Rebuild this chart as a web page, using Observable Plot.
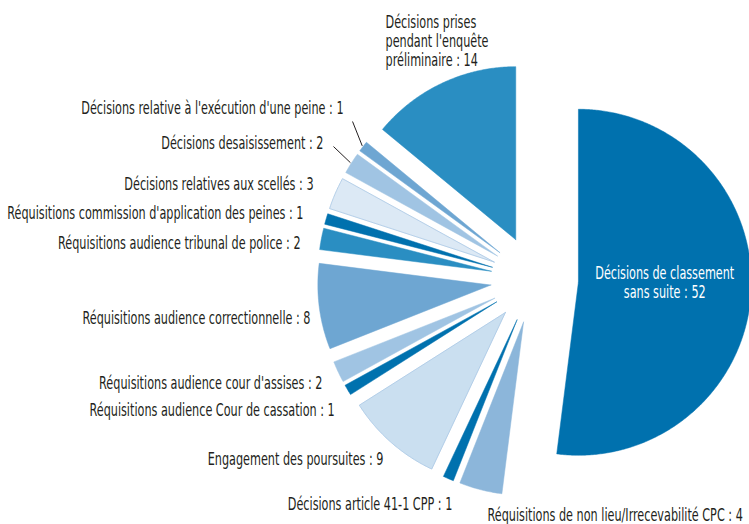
<!DOCTYPE html>
<html>
<head>
<meta charset="utf-8">
<script src="https://cdn.jsdelivr.net/npm/d3@7"></script>
<script src="https://cdn.jsdelivr.net/npm/@observablehq/plot@0.6"></script>
<style>
html, body { margin: 0; padding: 0; background: #fff; overflow: hidden; }
</style>
</head>
<body>
<div id="chart"></div>
<script>
// ---------- data ----------
const categories = [
  "Décisions de classement sans suite",
  "Réquisitions de non lieu/Irrecevabilité CPC",
  "Décisions article 41-1 CPP",
  "Engagement des poursuites",
  "Réquisitions audience Cour de cassation",
  "Réquisitions audience cour d'assises",
  "Réquisitions audience correctionnelle",
  "Réquisitions audience tribunal de police",
  "Réquisitions commission d'application des peines",
  "Décisions relatives aux scellés",
  "Décisions desaisissement",
  "Décisions relative à l'exécution d'une peine",
  "Décisions prises pendant l'enquête préliminaire"
];
const values = [52, 4, 1, 9, 1, 2, 8, 2, 1, 3, 2, 1, 14];
const labelTexts = [
  "Décisions de classement\nsans suite : 52",
  "Réquisitions de non lieu/Irrecevabilité CPC : 4",
  "Décisions article 41-1 CPP : 1",
  "Engagement des poursuites : 9",
  "Réquisitions audience Cour de cassation : 1",
  "Réquisitions audience cour d'assises : 2",
  "Réquisitions audience correctionnelle : 8",
  "Réquisitions audience tribunal de police : 2",
  "Réquisitions commission d'application des peines : 1",
  "Décisions relatives aux scellés : 3",
  "Décisions desaisissement : 2",
  "Décisions relative à l'exécution d'une peine : 1",
  "Décisions prises\npendant l'enquête\npréliminaire : 14"
];

// ---------- styles ----------
const palette = [
  "#0071ae", "#8cb6da", "#0071ae", "#cadff0", "#0071ae", "#a0c4e3", "#6ea6d2",
  "#2a8ec2", "#0071ae", "#dce9f5", "#a0c4e3", "#6ea6d2", "#2a8ec2"
];
const outlined = new Set([3, 9]); // very light slices carry a thin border
const textColor = "#231f20";
const fontFamily = "'Liberation Sans Narrow', 'DejaVu Sans Condensed', 'Arial Narrow', sans-serif";
const fontSize = 17;
const textScaleX = 0.735;

// ---------- layout ----------
const W = 749, H = 524;
const CX = 534, CY = 279;   // pie centre (px)
const EXPLODE = 44;         // explode distance (px)
const R = 173;              // radius (px)
// label nudges in px (dx right, dy down) from the slice's outer mid point
const labelNudge = [
  [0, -5], [7, 25], [4, 25], [-7.5, 17], [-13, 20.5], [-15.7, 11.6], [-8.7, 11.8],
  [-20.8, 3.7], [-22.6, -5.5], [-21.8, -9.8], [-27.8, -20.7], [-19.5, -38], [-56.6, -42.2]
];
const labelAnchor = ["middle", "start", "end", "end", "end", "end", "end",
  "end", "end", "end", "end", "end", "start"];
const insideLabel = new Set([0]);
const leaders = [ {i: 11, to: [9, 13]}, {i: 10, to: [10, 4]} ];

// ---------- geometry ----------
const arcs = d3.pie().sort(null).value(d => d)(values);
const points = [];
arcs.forEach((a, i) => {
  const mid = (a.startAngle + a.endAngle) / 2;
  const ax = EXPLODE * Math.sin(mid), ay = EXPLODE * Math.cos(mid);
  const n = Math.max(2, Math.ceil((a.endAngle - a.startAngle) / (Math.PI / 360)));
  points.push({name: categories[i], i, x: ax, y: ay});
  for (let k = 0; k <= n; k++) {
    const t = a.startAngle + (a.endAngle - a.startAngle) * k / n;
    points.push({name: categories[i], i, x: ax + R * Math.sin(t), y: ay + R * Math.cos(t)});
  }
  points.push({name: categories[i], i, x: ax, y: ay});
});

const labels = arcs.map((a, i) => {
  const mid = (a.startAngle + a.endAngle) / 2;
  const r = insideLabel.has(i) ? EXPLODE + 0.5 * R : EXPLODE + R;
  return {
    text: labelTexts[i],
    anchor: labelAnchor[i],
    inside: insideLabel.has(i),
    x: r * Math.sin(mid) + labelNudge[i][0],
    y: r * Math.cos(mid) - labelNudge[i][1]
  };
});

const leaderLinks = leaders.map(({i, to}) => {
  const a = arcs[i];
  const mid = (a.startAngle + a.endAngle) / 2;
  const r = EXPLODE + R + 1;
  return {
    x1: r * Math.sin(mid), y1: r * Math.cos(mid),
    x2: labels[i].x + to[0], y2: labels[i].y - to[1]
  };
});

const textMark = (anchor, fill, data) => Plot.text(data.filter(d => d.anchor === anchor), {
  x: "x", y: "y", text: "text", textAnchor: anchor, fill,
  fontFamily, fontSize, lineHeight: 1.1
});

const chart = Plot.plot({
  width: W, height: H,
  margin: 0,
  x: {domain: [-CX, W - CX], range: [0, W], axis: null},
  y: {domain: [CY, CY - H], range: [0, H], axis: null},
  color: {domain: categories, range: palette},
  style: {background: "#fff", overflow: "hidden"},
  marks: [
    Plot.line(points, {x: "x", y: "y", z: "name", fill: "name", stroke: "name", strokeWidth: 0.5, curve: "linear"}),
    Plot.line(points.filter(d => outlined.has(d.i)), {x: "x", y: "y", z: "name", fill: "none", stroke: "#a9c8e5", strokeWidth: 0.8}),
    Plot.link(leaderLinks, {x1: "x1", y1: "y1", x2: "x2", y2: "y2", stroke: textColor, strokeWidth: 1}),
    textMark("end", textColor, labels.filter(d => !d.inside)),
    textMark("start", textColor, labels.filter(d => !d.inside)),
    textMark("middle", "#ffffff", labels.filter(d => d.inside))
  ]
});

d3.select(chart).selectAll("text").each(function () {
  const t = this.getAttribute("transform") || "";
  this.setAttribute("transform", t + ` scale(${textScaleX},1)`);
});

document.getElementById("chart").appendChild(chart);
</script>
</body>
</html>
